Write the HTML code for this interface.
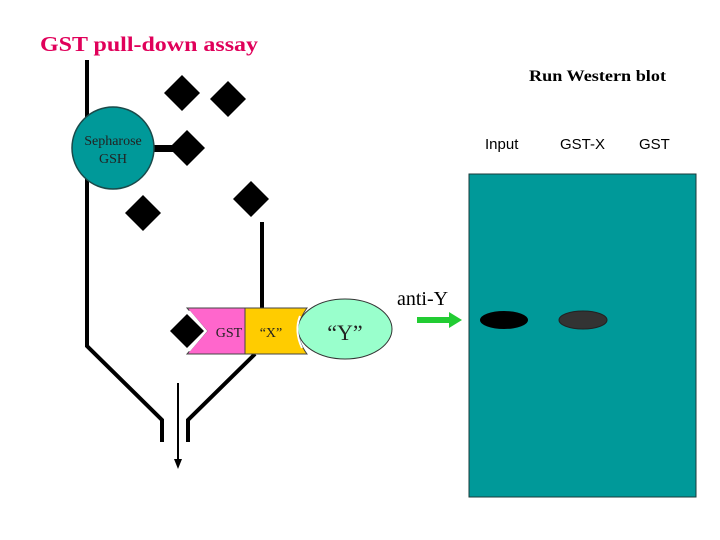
<!DOCTYPE html>
<html><head><meta charset="utf-8"><style>
html,body{margin:0;padding:0;background:#fff;}
svg{display:block;}
</style></head><body>
<svg width="720" height="540" viewBox="0 0 720 540" xmlns="http://www.w3.org/2000/svg">
<text x="40" y="51" font-family="Liberation Serif, serif" font-size="21" font-weight="bold" fill="#e0005a" textLength="218" lengthAdjust="spacingAndGlyphs">GST pull-down assay</text>
<text x="529" y="81" font-family="Liberation Serif, serif" font-size="16" font-weight="bold" fill="#000" textLength="137" lengthAdjust="spacingAndGlyphs">Run Western blot</text>
<g font-family="Liberation Sans, sans-serif" font-size="15" fill="#000">
<text x="485" y="149">Input</text>
<text x="560" y="149">GST-X</text>
<text x="639" y="149">GST</text>
</g>
<g stroke="#000" stroke-width="4" fill="none">
<polyline points="87,60 87,346 162,420 162,442"/>
<polyline points="262,222 262,310"/>
<polyline points="255,354 188,420 188,442"/>
</g>
<line x1="178" y1="383" x2="178" y2="460" stroke="#000" stroke-width="2"/>
<polygon points="174,459 182,459 178,469" fill="#000"/>
<rect x="153" y="145" width="28" height="7" fill="#000"/>
<circle cx="113" cy="148" r="41" fill="#009999" stroke="#1a4a4a" stroke-width="1.5"/>
<text x="113" y="145" text-anchor="middle" font-family="Liberation Serif, serif" font-size="14" fill="#222">Sepharose</text>
<text x="113" y="163" text-anchor="middle" font-family="Liberation Serif, serif" font-size="14" fill="#222">GSH</text>
<g fill="#000">
<polygon points="182,75 200,93 182,111 164,93"/>
<polygon points="228,81 246,99 228,117 210,99"/>
<polygon points="187,130 205,148 187,166 169,148"/>
<polygon points="143,195 161,213 143,231 125,213"/>
<polygon points="251,181 269,199 251,217 233,199"/>
</g>
<polygon points="187,308 245,308 245,354 187,354 207,331" fill="#ff66cc" stroke="#444" stroke-width="1"/>
<path d="M245,308 L307,308 Q290,331 307,354 L245,354 Z" fill="#ffcc00" stroke="#444" stroke-width="1"/>
<ellipse cx="345" cy="329" rx="47" ry="30" fill="#99ffcc" stroke="#333" stroke-width="1"/>
<path d="M300,316 Q294,331 302,348" fill="none" stroke="#fff" stroke-width="2"/>
<polyline points="189,311 206,331 189,351" fill="none" stroke="#fff" stroke-width="2"/>
<polygon points="187,314 204,331 187,348 170,331" fill="#000"/>
<text x="229" y="337" text-anchor="middle" font-family="Liberation Serif, serif" font-size="14" fill="#222">GST</text>
<text x="271" y="337" text-anchor="middle" font-family="Liberation Serif, serif" font-size="14" fill="#222">“X”</text>
<text x="345" y="340" text-anchor="middle" font-family="Liberation Serif, serif" font-size="22" fill="#222">“Y”</text>
<rect x="469" y="174" width="227" height="323" fill="#009999" stroke="#1a3a3a" stroke-width="1"/>
<ellipse cx="504" cy="320" rx="24" ry="9" fill="#000"/>
<ellipse cx="583" cy="320" rx="24" ry="9" fill="#333" stroke="#222" stroke-width="1"/>
<text x="397" y="305" font-family="Liberation Serif, serif" font-size="20" fill="#000">anti-Y</text>
<rect x="417" y="317" width="34" height="6" fill="#22cc33"/>
<polygon points="449,312 462,320 449,328" fill="#22cc33"/>
</svg>
</body></html>
